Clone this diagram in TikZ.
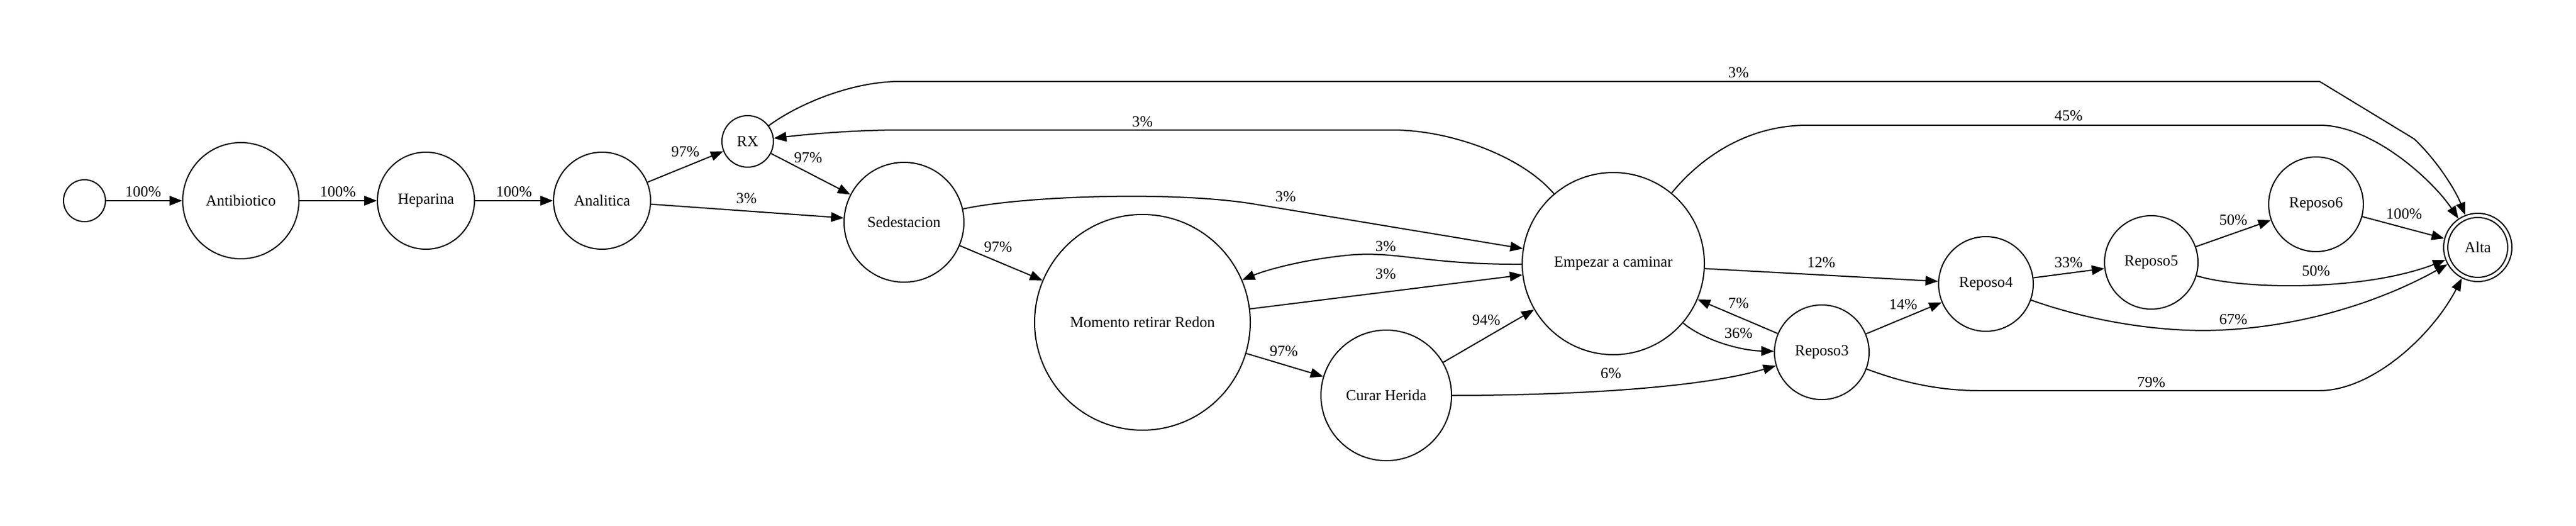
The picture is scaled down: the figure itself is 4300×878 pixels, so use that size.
\documentclass[tikz,border=0pt]{standalone}
\usepackage{fontspec}
\setmainfont{Liberation Serif}
\usetikzlibrary{arrows.meta}

\begin{document}
\begin{tikzpicture}[x=0.5pt,y=0.5pt]
\tikzstyle{every node}+=[inner sep=0pt,font=\fontsize{12.8}{15}\selectfont]
\tikzstyle{state}=[draw=black,circle,line width=1pt]
\tikzstyle{edge}=[black,line width=1pt,-{Triangle[length=10.5pt,width=8pt]}]
\useasboundingbox (0,0) rectangle (4300,-878);
\node [state,minimum size=35pt] (ini) at (141,-335) {};
\node [state,minimum size=97pt] (antibiotico) at (402,-335) {Antibiotico};
\node [state,minimum size=81pt] (heparina) at (711,-335) {Heparina};
\node [state,minimum size=81pt] (analitica) at (1005,-335) {Analitica};
\node [state,minimum size=43pt] (rx) at (1248,-236) {RX};
\node [state,minimum size=100pt] (sedestacion) at (1509,-371) {Sedestacion};
\node [state,minimum size=180pt] (redon) at (1907,-538) {Momento retirar Redon};
\node [state,minimum size=109pt] (herida) at (2314,-660) {Curar Herida};
\node [state,minimum size=152pt] (caminar) at (2693,-440) {Empezar a caminar};
\node [state,minimum size=79pt] (reposo3) at (3041,-588) {Reposo3};
\node [state,minimum size=79pt] (reposo4) at (3315,-474) {Reposo4};
\node [state,minimum size=78pt] (reposo5) at (3591,-438) {Reposo5};
\node [state,minimum size=79pt] (reposo6) at (3866,-341) {Reposo6};
\node [state,minimum size=57pt] (alta) at (4136,-413) {Alta};
\draw [black,line width=1pt] (alta) circle (25pt);
% cadena inicial
\draw [edge] (ini) -- (antibiotico);
\node (l1) at (239,-320) {100\%};
\draw [edge] (antibiotico) -- (heparina);
\node (l2) at (564,-320) {100\%};
\draw [edge] (heparina) -- (analitica);
\node (l3) at (858,-320) {100\%};
\draw [edge] (analitica) -- (rx);
\node (l4) at (1144,-253) {97\%};
\draw [edge] (analitica) -- (sedestacion);
\node (l5) at (1246,-331) {3\%};
\draw [edge] (rx) -- (sedestacion);
\node (l6) at (1349,-263) {97\%};
\draw [edge] (rx) .. controls (1330,-175) and (1420,-136) .. (1502,-136) -- (3872,-136) -- (4030,-232) .. controls (4070,-270) and (4100,-320) .. (alta);
\node (l7) at (2902,-121) {3\%};
\draw [edge] (caminar) .. controls (2540,-260) and (2420,-217) .. (2325,-217) -- (1502,-217) .. controls (1420,-217) and (1340,-225) .. (rx);
\node (l8) at (1907,-203) {3\%};
\draw [edge] (sedestacion) .. controls (1700,-328) and (1950,-318) .. (2090,-340) -- (caminar);
\node (l9) at (2146,-328) {3\%};
\draw [edge] (sedestacion) -- (redon);
\node (l10) at (1666,-412) {97\%};
% ida y vuelta con Redon
\draw [edge] (caminar) .. controls (2380,-442) and (2330,-418) .. (2250,-426) .. controls (2170,-434) and (2110,-452) .. (redon);
\node (l11) at (2313,-411) {3\%};
\draw [edge] (redon) -- (caminar);
\node (l12) at (2313,-457) {3\%};
\draw [edge] (redon) -- (herida);
\node (l13) at (2143,-586) {97\%};
\draw [edge] (herida) -- (caminar);
\node (l14) at (2481,-534) {94\%};
\draw [edge] (herida) .. controls (2600,-660) and (2830,-650) .. (reposo3);
\node (l15) at (2689,-623) {6\%};
\draw [edge] (caminar) .. controls (2850,-250) and (2930,-209) .. (3017,-209) -- (3872,-209) .. controls (3960,-209) and (4060,-300) .. (alta);
\node (l16) at (3453,-193) {45\%};
\draw [edge] (caminar) -- (reposo4);
\node (l17) at (3040,-438) {12\%};
\draw [edge] (caminar) .. controls (2840,-565) and (2900,-585) .. (reposo3);
\node (l18) at (2902,-556) {36\%};
\draw [edge] (reposo3) -- (caminar);
\node (l19) at (2902,-506) {7\%};
% reposos
\draw [edge] (reposo3) -- (reposo4);
\node (l20) at (3177,-508) {14\%};
\draw [edge] (reposo3) .. controls (3180,-640) and (3240,-652) .. (3304,-652) -- (3872,-652) .. controls (3960,-652) and (4060,-560) .. (alta);
\node (l21) at (3591,-638) {79\%};
\draw [edge] (reposo4) -- (reposo5);
\node (l22) at (3453,-438) {33\%};
\draw [edge] (reposo4) .. controls (3500,-540) and (3620,-555) .. (3705,-551) .. controls (3850,-545) and (3980,-500) .. (alta);
\node (l23) at (3728,-533) {67\%};
\draw [edge] (reposo5) -- (reposo6);
\node (l24) at (3728,-367) {50\%};
\draw [edge] (reposo5) .. controls (3750,-485) and (3950,-485) .. (alta);
\node (l25) at (3866,-452) {50\%};
\draw [edge] (reposo6) -- (alta);
\node (l26) at (4013,-357) {100\%};
\end{tikzpicture}
\end{document}
